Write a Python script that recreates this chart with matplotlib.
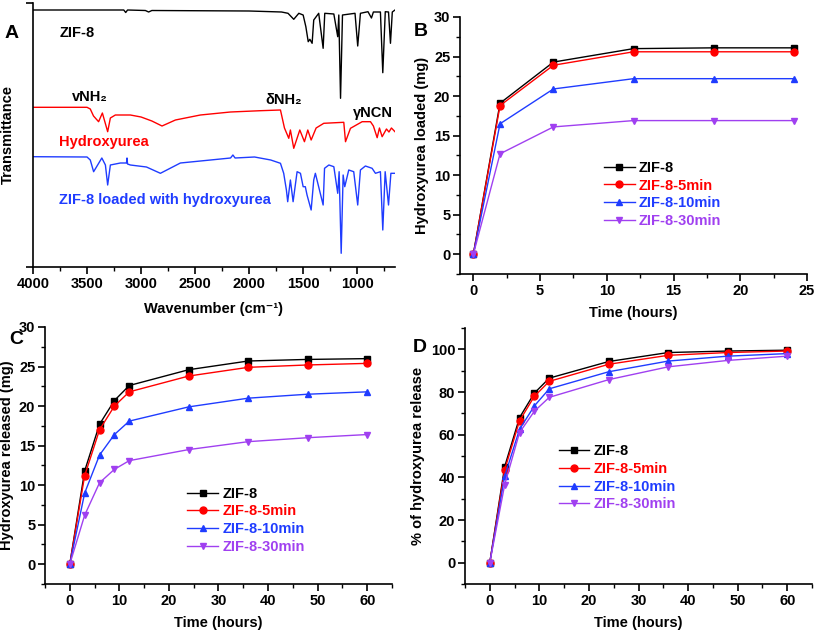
import matplotlib
matplotlib.use('Agg')
import matplotlib.pyplot as plt
from matplotlib.ticker import MultipleLocator

plt.rcParams['font.family'] = ['Liberation Sans', 'DejaVu Sans']
plt.rcParams['font.weight'] = 'bold'
plt.rcParams['axes.labelweight'] = 'bold'
plt.rcParams['font.size'] = 10
plt.rcParams['axes.linewidth'] = 1.2

# ---------------- panel A : FTIR spectra ----------------
zif8_wn = [4000, 3160, 3142, 3125, 2960, 2930, 2900, 2000, 1700, 1640, 1587, 1540, 1500,
           1475, 1453, 1438, 1417, 1402, 1356, 1315, 1300, 1216, 1180, 1170, 1154, 1136,
           1020, 995, 970, 900, 868, 850, 785, 763, 740, 710, 692, 675, 650]
zif8_T = [257, 257, 254.5, 257, 256.5, 255, 256.5, 256, 255, 253.7, 247.7, 253.7, 252,
          240.3, 225.3, 227.7, 223.7, 247, 253.7, 218.7, 253.7, 253, 230.3, 252, 168.7, 252,
          253.7, 221, 253.7, 255.3, 249, 255, 255, 194.3, 255.3, 255, 223.7, 255, 257]

hu_wn = [4000, 3500, 3470, 3440, 3393, 3358, 3309, 3284, 3238, 3099, 3000, 2900, 2806, 2682,
         2451, 2173, 1895, 1710, 1673, 1633, 1618, 1587, 1531, 1488, 1457, 1426, 1380, 1309,
         1124, 1108, 1062, 954, 877, 850, 815, 794, 769, 729, 706, 683, 650]
hu_T = [159.7, 159.7, 158, 151, 145.3, 154, 135.3, 149, 152, 152, 150, 146, 141, 147,
        152, 155, 156.3, 157, 139, 128.7, 137, 118.7, 137, 125.3, 137, 127, 139, 143.7,
        144.7, 125.3, 138.7, 145.3, 145.3, 141, 129.3, 139, 130.3, 138, 135, 139, 135.3]

loaded_wn = [4000, 3500, 3470, 3439, 3363, 3330, 3309, 3284, 3191, 3135, 3130, 3125, 3099,
             2950, 2821, 2636, 2357, 2172, 2150, 2130, 1950, 1800, 1710, 1680, 1655, 1643,
             1618, 1593, 1556, 1525, 1500, 1480, 1464, 1426, 1402, 1387, 1315, 1302, 1262,
             1216, 1180, 1167, 1148, 1130, 1115, 1078, 1032, 995, 970, 924, 862, 831, 785,
             763, 741, 710, 688, 650]
loaded_T = [110.3, 110, 107, 95.3, 109, 102, 82, 102, 104, 104, 109, 103, 102,
            100, 93.7, 104, 107, 109, 112, 109, 110, 107, 103.7, 93.7, 77, 65.3,
            87, 65.3, 95.3, 93.7, 80.3, 80.3, 72, 57, 87, 93.7, 62, 98.7, 102,
            100.3, 73.7, 95.3, 13.7, 92, 80.3, 97, 95.3, 62, 97, 101, 98.7, 93.7, 95.3,
            37, 95.3, 62, 93.7, 93.7]

# ---------------- panels B-D ----------------
labels = ['ZIF-8', 'ZIF-8-5min', 'ZIF-8-10min', 'ZIF-8-30min']
colors = ['black', '#ff0000', '#1f3cff', '#a040f0']
markers = ['s', 'o', '^', 'v']

load_time = [0, 2, 6, 12, 18, 24]
loaded = [
    [0, 19.1, 24.3, 26.0, 26.1, 26.1],
    [0, 18.8, 23.9, 25.6, 25.6, 25.6],
    [0, 16.5, 20.9, 22.2, 22.2, 22.2],
    [0, 12.7, 16.1, 16.9, 16.9, 16.9],
]

rel_time = [0, 3, 6, 9, 12, 24, 36, 48, 60]
released = [
    [0, 11.8, 17.7, 20.7, 22.6, 24.6, 25.7, 25.9, 26.0],
    [0, 11.2, 17.0, 20.0, 21.8, 23.8, 24.9, 25.2, 25.4],
    [0, 9.0, 13.8, 16.4, 18.1, 19.9, 21.0, 21.5, 21.8],
    [0, 6.2, 10.3, 12.0, 13.1, 14.5, 15.5, 16.0, 16.4],
]
percent = [
    [0, 45.0, 68.0, 79.5, 86.5, 94.3, 98.5, 99.2, 99.6],
    [0, 43.5, 66.5, 78.0, 85.0, 93.0, 97.2, 98.5, 99.2],
    [0, 40.5, 62.5, 73.5, 81.5, 89.5, 94.5, 96.8, 98.0],
    [0, 36.5, 61.0, 71.0, 77.5, 85.8, 91.8, 94.8, 96.8],
]

W, H = 816, 632
fig = plt.figure(figsize=(W / 100, H / 100), dpi=100)


def box(left, top, right, bottom):
    return [left / W, 1 - bottom / H, (right - left) / W, (bottom - top) / H]


def style(ax):
    ax.spines['top'].set_visible(False)
    ax.spines['right'].set_visible(False)
    ax.tick_params(which='major', direction='out', length=5, width=1.2, labelsize=10.5, pad=2)
    ax.tick_params(which='minor', direction='out', length=3, width=1.0)
    for t in ax.get_xticklabels() + ax.get_yticklabels():
        t.set_fontweight('bold')


# ---- A
axA = fig.add_axes(box(33, 3, 395, 267))
axA.plot(zif8_wn, zif8_T, color='black', lw=1.0)
axA.plot(hu_wn, hu_T, color='#ff0000', lw=1.0)
axA.plot(loaded_wn, loaded_T, color='#1f3cff', lw=1.0)
axA.set_xlim(4000, 650)
axA.set_ylim(0, 264)
axA.set_yticks([0, 264])
axA.set_yticklabels([])
axA.xaxis.set_major_locator(MultipleLocator(500))
axA.xaxis.set_minor_locator(MultipleLocator(250))
style(axA)
axA.set_xlabel('Wavenumber (cm⁻¹)', fontsize=10.5)
axA.set_ylabel('Transmittance', fontsize=10.5)
axA.xaxis.set_label_coords(0.5, -0.133)
axA.yaxis.set_label_coords(-0.05, 0.5)
axA.text(3756, 234, 'ZIF-8', color='black', fontsize=10.5, va='center')
axA.text(3756, 125, 'Hydroxyurea', color='#ff0000', fontsize=10.5, va='center')
axA.text(3756, 67, 'ZIF-8 loaded with hydroxyurea', color='#1f3cff', fontsize=10.5, va='center')
axA.text(3636, 170, 'vNH₂', fontsize=10.5, va='center')
axA.text(1850, 167, 'δNH₂', fontsize=10.5, va='center')
axA.text(1035, 154, 'γNCN', fontsize=10.5, va='center')
fig.text(5 / W, 1 - 33 / H, 'A', fontsize=14, va='center')

# ---- B
axB = fig.add_axes(box(460, 17, 807, 274))
for i in range(4):
    axB.plot(load_time, loaded[i], color=colors[i], marker=markers[i], ms=5, lw=1.0,
             label=labels[i])
axB.set_xlim(-1, 25)
axB.set_ylim(-2.5, 30)
axB.xaxis.set_major_locator(MultipleLocator(5))
axB.xaxis.set_minor_locator(MultipleLocator(2.5))
axB.yaxis.set_major_locator(MultipleLocator(5))
axB.yaxis.set_minor_locator(MultipleLocator(2.5))
style(axB)
axB.set_xlabel('Time (hours)', fontsize=10.5)
axB.set_ylabel('Hydroxyurea loaded (mg)', fontsize=10.5)
axB.xaxis.set_label_coords(0.5, -0.125)
axB.yaxis.set_label_coords(-0.089, 0.5)
fig.text(414 / W, 1 - 32 / H, 'B', fontsize=14, va='center')

# ---- C
axC = fig.add_axes(box(45, 327, 392, 584))
for i in range(4):
    axC.plot(rel_time, released[i], color=colors[i], marker=markers[i], ms=5, lw=1.0,
             label=labels[i])
axC.set_xlim(-5, 65)
axC.set_ylim(-2.5, 30)
axC.xaxis.set_major_locator(MultipleLocator(10))
axC.xaxis.set_minor_locator(MultipleLocator(5))
axC.yaxis.set_major_locator(MultipleLocator(5))
axC.yaxis.set_minor_locator(MultipleLocator(2.5))
style(axC)
axC.set_xlabel('Time (hours)', fontsize=10.5)
axC.set_ylabel('Hydroxyurea released (mg)', fontsize=10.5)
axC.xaxis.set_label_coords(0.5, -0.125)
axC.yaxis.set_label_coords(-0.089, 0.5)
fig.text(9 / W, 1 - 340 / H, 'C', fontsize=14, va='center')

# ---- D
axD = fig.add_axes(box(465, 328, 812, 584))
for i in range(4):
    axD.plot(rel_time, percent[i], color=colors[i], marker=markers[i], ms=5, lw=1.0,
             label=labels[i])
axD.set_xlim(-5, 65)
axD.set_ylim(-10, 110)
axD.xaxis.set_major_locator(MultipleLocator(10))
axD.xaxis.set_minor_locator(MultipleLocator(5))
axD.yaxis.set_major_locator(MultipleLocator(20))
axD.yaxis.set_minor_locator(MultipleLocator(10))
style(axD)
axD.set_xlabel('Time (hours)', fontsize=10.5)
axD.set_ylabel('% of hydroxyurea release', fontsize=10.5)
axD.xaxis.set_label_coords(0.5, -0.125)
axD.yaxis.set_label_coords(-0.115, 0.5)
fig.text(413 / W, 1 - 347 / H, 'D', fontsize=14, va='center')

# legends with coloured text
for ax, x0, y0 in [(axB, 0.415, 0.44), (axC, 0.41, 0.378), (axD, 0.27, 0.545)]:
    leg = ax.legend(loc='upper left', bbox_to_anchor=(x0, y0), frameon=False, fontsize=10.5,
                    handlelength=2.1, handletextpad=0.3, labelspacing=0.25, borderpad=0,
                    borderaxespad=0, numpoints=1)
    for txt, c in zip(leg.get_texts(), colors):
        txt.set_color(c)

fig.savefig('out.png', dpi=100)
